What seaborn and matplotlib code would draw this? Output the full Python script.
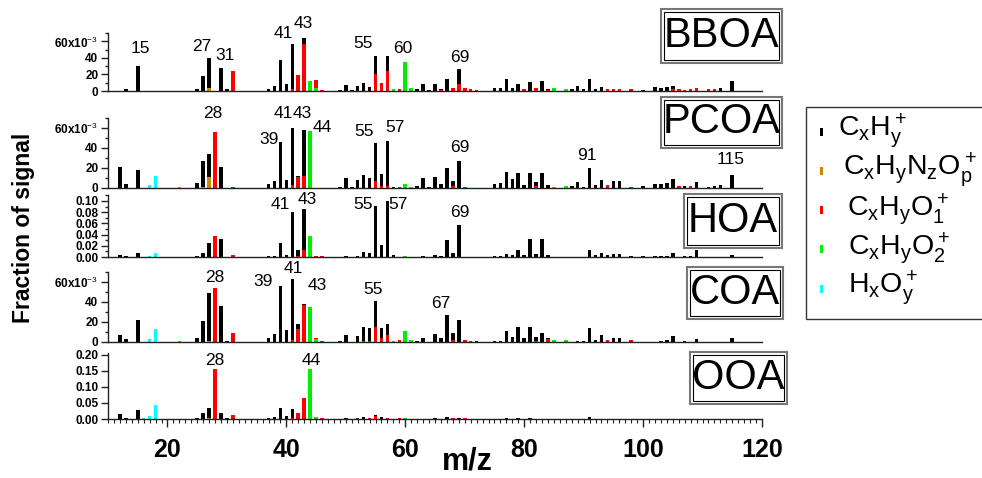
import numpy as np
import pandas as pd
import matplotlib
matplotlib.use('Agg')
import matplotlib.pyplot as plt
from matplotlib.patches import Rectangle
from matplotlib.ticker import FixedLocator, MultipleLocator
import seaborn as sns

# ion families, first one ends up on top of the stack
families = ['CxHy', 'CxHyO1', 'CxHyO2', 'CxHyNzOp', 'HxOy']
colors = {'CxHy': '#000000', 'CxHyNzOp': '#CC8800', 'CxHyO1': '#FF0000',
          'CxHyO2': '#00EE00', 'HxOy': '#00FFFF'}

# fraction of signal in units of 1e-3, keyed by m/z
bboa_cxhy = {12: 0.5, 13: 3, 15: 30, 24: 0.5, 25: 3, 26: 18, 27: 36, 29: 28, 30: 2,
             37: 3, 38: 6, 39: 38, 40: 8, 41: 54, 43: 7, 49: 1, 50: 7, 51: 1.5, 52: 6,
             53: 10, 54: 5, 55: 23, 57: 19, 62: 2, 63: 9, 64: 1, 65: 9, 66: 2, 67: 14,
             69: 19, 74: 0.5, 75: 4, 76: 4, 77: 14, 78: 4, 79: 8, 81: 11, 83: 12, 84: 2,
             88: 3, 89: 6, 90: 2, 91: 14, 92: 2, 93: 5, 100: 1, 102: 5, 103: 4, 104: 5,
             105: 4, 113: 4, 115: 12}
bboa_o1 = {31: 24, 41: 3, 42: 19, 43: 57, 45: 9, 46: 1, 55: 20, 56: 10, 57: 24, 59: 3,
           66: 1, 68: 4, 69: 8, 70: 4, 71: 2, 72: 1, 80: 2, 82: 4, 84: 1, 94: 3, 95: 2,
           96: 2, 98: 2, 105: 2, 106: 2, 107: 1, 108: 2, 109: 4, 111: 2, 112: 2}
bboa_o2 = {44: 12, 45: 4, 58: 2, 60: 35, 61: 4, 85: 4, 87: 2}
bboa_nzop = {27: 4}
bboa_hxoy = {17: 0.4, 18: 0.6}

pcoa_cxhy = {12: 21, 13: 4, 15: 18, 24: 0.5, 25: 5, 26: 26, 27: 23, 29: 21, 37: 4,
             38: 7, 39: 46, 40: 8, 41: 57, 42: 1, 43: 46, 49: 1, 50: 10, 51: 1, 52: 8,
             53: 13, 54: 10, 55: 38, 56: 12, 57: 45, 58: 1, 62: 2, 63: 10, 64: 1, 65: 11,
             66: 4, 67: 20, 68: 5, 69: 27, 75: 4, 76: 5, 77: 16, 78: 9, 79: 15, 80: 3,
             81: 15, 82: 4, 83: 15, 84: 3, 88: 2, 89: 6, 90: 1, 91: 20, 92: 3, 93: 8,
             95: 7, 96: 7, 100: 2, 102: 4, 103: 4, 104: 5, 105: 9, 107: 2, 109: 6,
             111: 1, 112: 2, 113: 3, 115: 13}
pcoa_o1 = {28: 56, 31: 1, 41: 3, 42: 11, 43: 12, 45: 0.5, 55: 7, 56: 2, 57: 2, 59: 1,
           68: 2, 70: 1, 82: 2, 94: 3, 98: 1, 106: 2, 108: 2}
pcoa_o2 = {22: 1, 44: 57, 60: 4, 61: 1, 85: 1, 87: 2}
pcoa_nzop = {26: 1, 27: 11}
pcoa_hxoy = {17: 3, 18: 12}

hoa_cxhy = {12: 3, 13: 1, 15: 7, 25: 1, 26: 8, 27: 24, 29: 33, 37: 1, 38: 2, 39: 25,
            40: 4, 41: 81, 42: 11, 43: 73, 50: 2, 52: 1, 53: 9, 54: 7, 55: 91, 56: 21,
            57: 100, 58: 3, 63: 2, 65: 3, 66: 2, 67: 31, 68: 7, 69: 58, 75: 1, 76: 1,
            77: 6, 78: 3, 79: 12, 80: 3, 81: 33, 82: 6, 83: 33, 84: 3, 91: 12, 92: 3,
            93: 8, 94: 3, 95: 6, 96: 6, 98: 1, 100: 1, 102: 2, 103: 2, 104: 2, 105: 8,
            107: 2, 108: 2, 109: 12, 115: 3}
hoa_o1 = {28: 37, 31: 3, 42: 1, 43: 12, 45: 2, 46: 1}
hoa_o2 = {44: 38, 60: 1}
hoa_nzop = {27: 0.5}
hoa_hxoy = {17: 2, 18: 8}

coa_cxhy = {12: 7, 13: 3, 15: 22, 25: 4, 26: 21, 27: 48, 29: 36, 30: 1, 37: 4, 38: 8,
            39: 56, 40: 12, 41: 61, 42: 5, 43: 1, 49: 1, 50: 7, 52: 6, 53: 14, 54: 13,
            55: 26, 56: 10, 57: 11, 62: 1, 63: 4, 65: 8, 66: 4, 67: 27, 68: 7, 69: 22,
            72: 1, 75: 1, 76: 1, 77: 11, 78: 5, 79: 15, 80: 4, 81: 15, 82: 4, 83: 9,
            84: 1, 89: 1, 90: 1, 91: 14, 92: 2, 93: 7, 95: 4, 96: 4, 103: 1, 104: 2,
            105: 6, 107: 1, 109: 3, 115: 4}
coa_o1 = {28: 54, 31: 9, 41: 2, 42: 13, 43: 37, 45: 1, 46: 1, 53: 1, 54: 1, 55: 15,
          56: 4, 57: 7, 59: 2, 68: 2, 70: 2, 71: 1, 82: 1, 84: 3, 94: 2, 98: 2}
coa_o2 = {22: 1, 44: 35, 45: 3, 58: 1, 60: 11, 61: 2, 85: 2, 87: 2}
coa_nzop = {27: 1}
coa_hxoy = {17: 3, 18: 13}

ooa_cxhy = {12: 15, 13: 4, 15: 27, 25: 3, 26: 18, 27: 30, 29: 19, 30: 3, 37: 2, 38: 5,
            39: 34, 40: 8, 41: 27, 43: 2, 50: 3, 52: 2, 53: 7, 55: 2, 56: 5, 65: 2,
            67: 5, 69: 4, 77: 4, 79: 4, 81: 3, 91: 5}
ooa_o1 = {28: 157, 31: 13, 41: 4, 42: 18, 43: 64, 46: 4, 54: 3, 55: 10, 57: 4, 59: 2,
          68: 2, 70: 2}
ooa_o2 = {44: 157, 45: 7, 60: 2}
ooa_nzop = {27: 4}
ooa_hxoy = {16: 2, 17: 10, 18: 44}

# labelled peaks
bboa_peaks = [15, 27, 31, 41, 43, 55, 60, 69]
pcoa_peaks = [28, 39, 41, 43, 44, 55, 57, 69, 91, 115]
hoa_peaks = [41, 43, 55, 57, 69]
coa_peaks = [28, 39, 41, 43, 55, 67]
ooa_peaks = [28, 44]

panels = {
    'BBOA': dict(CxHy=bboa_cxhy, CxHyO1=bboa_o1, CxHyO2=bboa_o2, CxHyNzOp=bboa_nzop, HxOy=bboa_hxoy),
    'PCOA': dict(CxHy=pcoa_cxhy, CxHyO1=pcoa_o1, CxHyO2=pcoa_o2, CxHyNzOp=pcoa_nzop, HxOy=pcoa_hxoy),
    'HOA': dict(CxHy=hoa_cxhy, CxHyO1=hoa_o1, CxHyO2=hoa_o2, CxHyNzOp=hoa_nzop, HxOy=hoa_hxoy),
    'COA': dict(CxHy=coa_cxhy, CxHyO1=coa_o1, CxHyO2=coa_o2, CxHyNzOp=coa_nzop, HxOy=coa_hxoy),
    'OOA': dict(CxHy=ooa_cxhy, CxHyO1=ooa_o1, CxHyO2=ooa_o2, CxHyNzOp=ooa_nzop, HxOy=ooa_hxoy),
}
peaks = {'BBOA': bboa_peaks, 'PCOA': pcoa_peaks, 'HOA': hoa_peaks,
         'COA': coa_peaks, 'OOA': ooa_peaks}

sns.set_style('ticks')
plt.rcParams['font.family'] = ['Liberation Sans', 'DejaVu Sans']
plt.rcParams['mathtext.fontset'] = 'custom'
plt.rcParams['mathtext.rm'] = 'Liberation Sans'
for key in ['text.color', 'axes.labelcolor', 'xtick.color', 'ytick.color']:
    plt.rcParams[key] = 'black'

W, H = 982, 478
fig = plt.figure(figsize=(9.82, 4.78), dpi=100)

# layout in pixels: (top, bottom) of each axes, y max, label box
layout = {
    'BBOA': dict(top=33, bot=91, ymax=0.0703, box=(661, 9, 782, 63)),
    'PCOA': dict(top=118, bot=188, ymax=0.070, box=(661, 97, 782, 148)),
    'HOA': dict(top=195, bot=257, ymax=0.1107, box=(684, 194, 782, 248)),
    'COA': dict(top=272, bot=342, ymax=0.070, box=(687, 267, 783, 319)),
    'OOA': dict(top=353, bot=419, ymax=0.206, box=(690, 352, 787, 404)),
}
label_pos = {
    'BBOA': [(15.4, .052), (25.8, .0545), (29.7, .0436), (39.5, .070), (42.8, .082),
             (52.9, .058), (59.5, .051), (69.1, .040)],
    'PCOA': [(27.7, .074), (37.1, .049), (39.5, .074), (42.7, .074), (46.0, .060),
             (53.1, .056), (58.3, .060), (69.1, .040), (90.6, .033), (114.7, .028)],
    'HOA': [(39.0, .0946), (43.5, .102), (52.9, .093), (58.8, .093), (69.1, .0786)],
    'COA': [(28.0, .064), (36.1, .060), (41.1, .074), (45.2, .057), (54.6, .052), (65.9, .038)],
    'OOA': [(28.0, .184), (44.2, .184)],
}
left_px, right_px = 108, 762

for name, lay in layout.items():
    ax = fig.add_axes([left_px / W, 1 - lay['bot'] / H,
                       (right_px - left_px) / W, (lay['bot'] - lay['top']) / H])
    rows = []
    for fam, d in panels[name].items():
        for mz, v in d.items():
            rows.append((mz, fam, v * 1e-3))
    df = pd.DataFrame(rows, columns=['mz', 'family', 'value'])
    sns.histplot(data=df, x='mz', weights='value', hue='family', hue_order=families,
                 multiple='stack', discrete=True, shrink=0.6, palette=colors,
                 linewidth=0, alpha=1, legend=False, ax=ax)
    ax.set_xlim(10, 120)
    ax.set_ylim(0, lay['ymax'])
    ax.set_xlabel('')
    ax.set_ylabel('')
    sns.despine(ax=ax)
    for s in ['left', 'bottom']:
        ax.spines[s].set_color('#222222')
        ax.spines[s].set_linewidth(1)

    if name in ('BBOA', 'PCOA', 'COA'):
        ax.yaxis.set_major_locator(FixedLocator([0, 0.02, 0.04, 0.06]))
        ax.set_yticklabels(['0', '20', '40', r'60x10$^{-3}$'])
        ax.yaxis.set_minor_locator(MultipleLocator(0.01))
    elif name == 'HOA':
        ax.yaxis.set_major_locator(FixedLocator(np.arange(0, 0.11, 0.02)))
        ax.set_yticklabels(['0.00', '0.02', '0.04', '0.06', '0.08', '0.10'])
        ax.yaxis.set_minor_locator(MultipleLocator(0.01))
    else:
        ax.yaxis.set_major_locator(FixedLocator([0, 0.05, 0.10, 0.15, 0.20]))
        ax.set_yticklabels(['0.00', '0.05', '0.10', '0.15', '0.20'])
    ax.tick_params(axis='y', which='major', length=5, width=1, pad=2,
                   labelsize=8.5, color='#222222')
    ax.tick_params(axis='y', which='minor', length=2.5, width=1, color='#222222')
    for t in ax.get_yticklabels():
        t.set_fontweight('bold')

    if name == 'OOA':
        ax.xaxis.set_major_locator(FixedLocator([20, 40, 60, 80, 100, 120]))
        ax.xaxis.set_minor_locator(MultipleLocator(1))
        ax.tick_params(axis='x', which='major', length=6, width=1, pad=8,
                       labelsize=18, color='#222222')
        ax.tick_params(axis='x', which='minor', length=3, width=0.8, color='#222222')
        for t in ax.get_xticklabels():
            t.set_fontweight('bold')
    else:
        ax.tick_params(axis='x', which='both', bottom=False, labelbottom=False)

    for mz, (x, y) in zip(peaks[name], label_pos[name]):
        ax.text(x, y, str(mz), ha='center', va='center', fontsize=12.5, clip_on=False)

    # double framed panel name
    x0, y0, x1, y1 = lay['box']
    fig.add_artist(Rectangle((x0 / W, 1 - y1 / H), (x1 - x0) / W, (y1 - y0) / H,
                             transform=fig.transFigure, facecolor='white',
                             edgecolor='#777777', linewidth=1.5, zorder=3))
    fig.add_artist(Rectangle(((x0 + 3) / W, 1 - (y1 - 3) / H), (x1 - x0 - 6) / W,
                             (y1 - y0 - 6) / H, transform=fig.transFigure,
                             facecolor='none', edgecolor='black', linewidth=0.8, zorder=4))
    fig.text((x0 + x1) / 2 / W, 1 - (y0 + y1) / 2 / H, name, ha='center', va='center',
             fontsize=30, zorder=5)

# legend
fig.add_artist(Rectangle((806 / W, 1 - 319 / H), 200 / W, 212 / H,
                         transform=fig.transFigure, facecolor='white',
                         edgecolor='#333333', linewidth=1, zorder=3))
legend_labels = [r'$\mathregular{C_xH_y^+}$', r'$\mathregular{C_xH_yN_zO_p^+}$',
                 r'$\mathregular{C_xH_yO_1^+}$', r'$\mathregular{C_xH_yO_2^+}$',
                 r'$\mathregular{H_xO_y^+}$']
legend_fams = ['CxHy', 'CxHyNzOp', 'CxHyO1', 'CxHyO2', 'HxOy']
legend_y = [131, 170, 209, 248, 288]
legend_x = [838, 843, 847, 848, 848]
for fam, lab, px, py in zip(legend_fams, legend_labels, legend_x, legend_y):
    fig.add_artist(Rectangle((820 / W, 1 - (py + 5) / H), 3 / W, 8 / H,
                             transform=fig.transFigure, facecolor=colors[fam],
                             edgecolor='none', zorder=4))
    fig.text(px / W, 1 - py / H, lab, ha='left', va='center', fontsize=20.5, zorder=5)

fig.text(24 / W, 1 - 228 / H, 'Fraction of signal', rotation=90, ha='center',
         va='center', fontsize=16.5, fontweight='bold')
fig.text(467 / W, 1 - 462 / H, 'm/z', ha='center', va='center', fontsize=22,
         fontweight='bold')

fig.savefig('out.png', dpi=100)
